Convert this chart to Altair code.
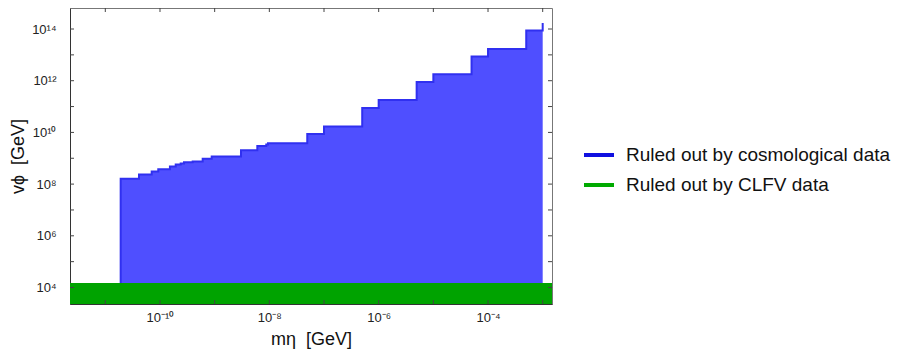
import altair as alt
import pandas as pd

# Step boundary (start of each step) and the bound value on that step
m_eta = [1.91e-11, 4.13e-11, 7.05e-11, 9.3e-11, 1.52e-10, 1.94e-10, 2.39e-10, 2.75e-10,
         3.96e-10, 6.04e-10, 8.83e-10, 3.03e-9, 6.03e-9, 8.79e-9, 9.44e-9, 4.94e-8,
         1.0e-7, 5.0e-7, 1.0e-6, 4.95e-6, 1.0e-5, 5.0e-5, 1.0e-4, 5.0e-4, 1.0e-3]
v_phi = [1.62e8, 2.34e8, 3.09e8, 3.72e8, 4.79e8, 5.75e8, 6.3e8, 7.08e8,
         7.41e8, 9.55e8, 1.17e9, 2.04e9, 2.95e9, 3.39e9, 3.8e9, 8.7e9,
         1.7e10, 8.7e10, 1.78e11, 8.9e11, 1.78e12, 8.7e12, 1.7e13, 8.7e13, 1.7e14]

clfv_bound = 1.5e4

x_domain = [2.26e-12, 1.48e-3]
y_domain = [2.3e3, 6.5e14]

x_label_values = [1e-10, 1e-8, 1e-6, 1e-4]
x_labels = ["10⁻¹⁰", "10⁻⁸", "10⁻⁶", "10⁻⁴"]
x_tick_values = [1e-11, 1e-10, 1e-9, 1e-8, 1e-7, 1e-6, 1e-5, 1e-4, 1e-3]
y_label_values = [1e4, 1e6, 1e8, 1e10, 1e12, 1e14]
y_labels = ["10⁴", "10⁶", "10⁸", "10¹⁰", "10¹²", "10¹⁴"]
y_tick_values = [1e4, 1e5, 1e6, 1e7, 1e8, 1e9, 1e10, 1e11, 1e12, 1e13, 1e14]

legend_labels = ["Ruled out by cosmological data", "Ruled out by CLFV data"]
legend_colors = ["#1010e0", "#00aa00"]

x_title = "mη\u00a0\u00a0[GeV]"
y_title = "vϕ\u00a0\u00a0[GeV]"

W, H = 482, 296
FONT = "Liberation Sans"


def label_expr(values, labels):
    expr = "''"
    for v, lab in reversed(list(zip(values, labels))):
        expr = f"(datum.value > {v * 0.5} && datum.value < {v * 2}) ? '{lab}' : {expr}"
    return expr


xs = alt.Scale(type="log", domain=x_domain, nice=False)
ys = alt.Scale(type="log", domain=y_domain, nice=False)

steps = pd.DataFrame({"m": m_eta, "v": v_phi})
edge = pd.DataFrame({"m": [m_eta[0]] + m_eta, "v": [y_domain[0]] + v_phi})

area = alt.Chart(steps).mark_area(interpolate="step-after", color="#4f4fff", clip=True).encode(
    x=alt.X("m:Q", scale=xs,
            axis=alt.Axis(values=x_label_values, labelExpr=label_expr(x_label_values, x_labels),
                          ticks=False, grid=False, labelPadding=7, title=x_title,
                          titleY=40, titleBaseline="alphabetic")),
    y=alt.Y("v:Q", scale=ys,
            axis=alt.Axis(values=y_label_values, labelExpr=label_expr(y_label_values, y_labels),
                          ticks=False, grid=False, labelPadding=14, title=y_title,
                          titleX=-52, titleY=H / 2, titleAngle=-90, titleBaseline="middle",
                          titleAlign="center")),
    y2=alt.Y2Datum(y_domain[0]),
)

line = alt.Chart(edge).mark_line(interpolate="step-after", color="#3030f0", strokeWidth=2,
                                 clip=True).encode(
    x=alt.X("m:Q", scale=xs),
    y=alt.Y("v:Q", scale=ys),
)

green = alt.Chart(pd.DataFrame({"a": [0]})).mark_rect(color="#00a300", clip=True).encode(
    x=alt.XDatum(x_domain[0], scale=xs),
    x2=alt.X2Datum(x_domain[1]),
    y=alt.YDatum(y_domain[0], scale=ys),
    y2=alt.Y2Datum(clfv_bound),
)

xt = pd.DataFrame({"t": x_tick_values})
yt = pd.DataFrame({"t": y_tick_values})
tick_color = "#444444"
xt_bottom = alt.Chart(xt).mark_rule(color=tick_color).encode(
    x=alt.X("t:Q", scale=xs), y=alt.value(H), y2=alt.value(H - 4))
xt_top = alt.Chart(xt).mark_rule(color=tick_color).encode(
    x=alt.X("t:Q", scale=xs), y=alt.value(0), y2=alt.value(4))
yt_left = alt.Chart(yt).mark_rule(color=tick_color).encode(
    y=alt.Y("t:Q", scale=ys), x=alt.value(0), x2=alt.value(4))
yt_right = alt.Chart(yt).mark_rule(color=tick_color).encode(
    y=alt.Y("t:Q", scale=ys), x=alt.value(W), x2=alt.value(W - 4))

leg = alt.Chart(pd.DataFrame({"s": legend_labels})).mark_line(opacity=0).encode(
    x=alt.XDatum(1e-6, scale=xs),
    y=alt.YDatum(1e6, scale=ys),
    color=alt.Color("s:N", sort=legend_labels,
                    scale=alt.Scale(domain=legend_labels, range=legend_colors),
                    legend=alt.Legend(title=None, orient="none", legendX=512, legendY=130,
                                      symbolType="stroke", symbolStrokeWidth=4, symbolSize=900,
                                      symbolOpacity=1, labelFontSize=19, labelFont=FONT,
                                      labelColor="#111111", labelOffset=10, rowPadding=3,
                                      labelLimit=0, padding=0)),
)

chart = alt.layer(area, line, green, xt_bottom, xt_top, yt_left, yt_right, leg).properties(
    width=W, height=H,
    autosize=alt.AutoSizeParams(type="none"),
    padding={"left": 62, "top": 0, "right": 344, "bottom": 48},
).configure_view(stroke="#777777", strokeWidth=1).configure_axis(
    domainColor="#333333", labelFont=FONT, labelFontSize=13, labelColor="#222222",
    titleFont=FONT, titleFontSize=18, titleFontWeight="normal", titleColor="#111111",
)

chart.save("out.html", embed_options={"renderer": "svg", "actions": False})
